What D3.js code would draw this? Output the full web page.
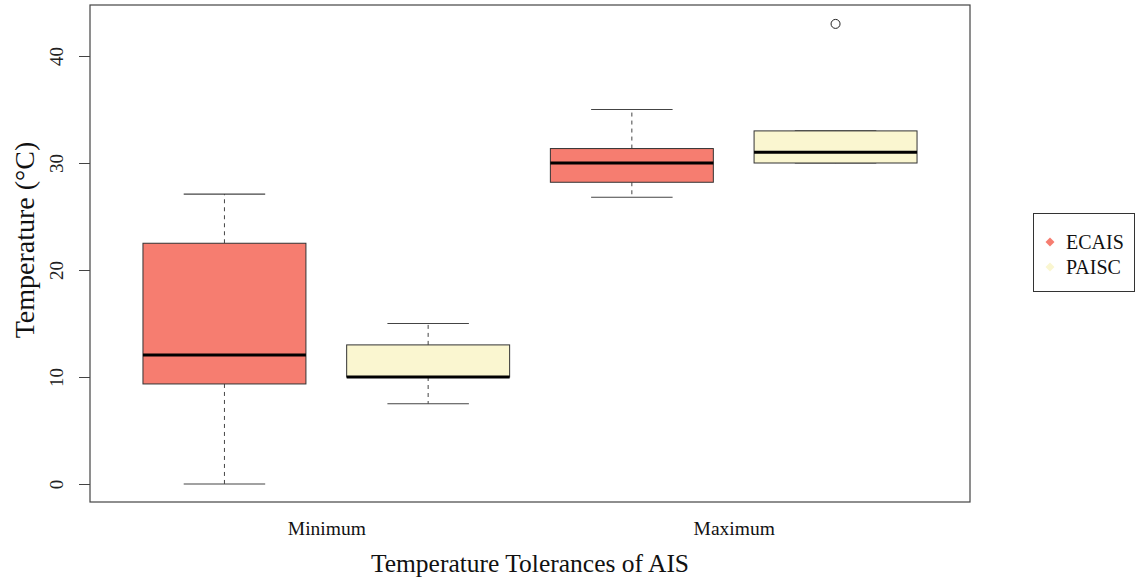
<!DOCTYPE html>
<html><head><meta charset="utf-8">
<script src="https://cdn.jsdelivr.net/npm/d3@7"></script>
<style>body{margin:0;background:#fff}svg{display:block}text{font-family:"Liberation Serif","DejaVu Serif",serif}</style>
</head><body>
<svg id="c" width="1135" height="582"></svg>
<script>
const groups = ["Minimum","Maximum"];
const seriesNames = ["ECAIS","PAISC"];
const seriesColors = ["#f67d70","#faf6d0"];
// [low whisker, q1, median, q3, high whisker] per box, ordered Min-ECAIS, Min-PAISC, Max-ECAIS, Max-PAISC
const boxStats = [
  [0, 9.35, 12.05, 22.5, 27.1],
  [7.5, 10, 10, 13, 15],
  [26.8, 28.2, 30, 31.35, 35],
  [30, 30, 31, 33, 33]
];
const outliers = [[], [], [], [43]];
const yTicks = [0,10,20,30,40];

const svg = d3.select("#c");
const L=90,R=970,T=5,B=502;
const x = d3.scaleLinear().domain([0.34,4.66]).range([L,R]);
const y = d3.scaleLinear().domain([0,40]).range([484,56]);
const bw = 0.8, cw = 0.4;

boxStats.forEach((s,i)=>{
  const p=i+1, col=seriesColors[i%2];
  const g=svg.append("g");
  g.append("line").attr("x1",x(p)).attr("x2",x(p)).attr("y1",y(s[3])).attr("y2",y(s[4]))
    .attr("stroke","#444").attr("stroke-dasharray","4,4");
  g.append("line").attr("x1",x(p)).attr("x2",x(p)).attr("y1",y(s[1])).attr("y2",y(s[0]))
    .attr("stroke","#444").attr("stroke-dasharray","4,4");
  [s[0],s[4]].forEach(v=>g.append("line").attr("x1",x(p-cw/2)).attr("x2",x(p+cw/2))
    .attr("y1",y(v)).attr("y2",y(v)).attr("stroke","#444").attr("stroke-width",1.2));
  g.append("rect").attr("x",x(p-bw/2)).attr("width",x(p+bw/2)-x(p-bw/2))
    .attr("y",y(s[3])).attr("height",Math.max(0,y(s[1])-y(s[3])))
    .attr("fill",col).attr("stroke","#333").attr("stroke-width",1);
  g.append("line").attr("x1",x(p-bw/2)).attr("x2",x(p+bw/2)).attr("y1",y(s[2])).attr("y2",y(s[2]))
    .attr("stroke","#000").attr("stroke-width",3);
  outliers[i].forEach(v=>g.append("circle").attr("cx",x(p)).attr("cy",y(v)).attr("r",4.5)
    .attr("fill","none").attr("stroke","#222").attr("stroke-width",1));
});

svg.append("rect").attr("x",L).attr("y",T).attr("width",R-L).attr("height",B-T)
  .attr("fill","none").attr("stroke","#444").attr("stroke-width",1.2);

const ya = svg.append("g").attr("transform",`translate(${L},0)`)
  .call(d3.axisLeft(y).tickValues(yTicks).tickSize(11).tickFormat(d3.format("d")));
ya.select(".domain").remove();
ya.selectAll(".tick line").attr("stroke","#444");
ya.selectAll(".tick text").attr("font-size",19).attr("fill","#222")
  .attr("transform","rotate(-90)").attr("x",0).attr("dy",0).attr("y",-27)
  .attr("text-anchor","middle");

const xa = svg.append("g").attr("transform",`translate(0,${B})`)
  .call(d3.axisBottom(x).tickValues([1.5,3.5]).tickSize(0).tickFormat((d,i)=>groups[i]));
xa.select(".domain").remove();
xa.selectAll(".tick text").attr("font-size",19.5).attr("fill","#111").attr("dy",0).attr("y",33);

svg.append("text").attr("x",x(2.5)).attr("y",572).attr("text-anchor","middle")
  .attr("font-size",25.5).attr("fill","#111").text("Temperature Tolerances of AIS");
svg.append("text").attr("transform","translate(34,240) rotate(-90)").attr("text-anchor","middle")
  .attr("font-size",28).attr("fill","#111").text("Temperature (°C)");

const lg = svg.append("g");
lg.append("rect").attr("x",1033.5).attr("y",213.5).attr("width",101).attr("height",78)
  .attr("fill","#fff").attr("stroke","#333").attr("stroke-width",1);
seriesNames.forEach((n,i)=>{
  const cy=242+i*25;
  lg.append("path").attr("d",d3.symbol(d3.symbolSquare,40)()).attr("transform",`translate(1050,${cy}) rotate(45)`)
    .attr("fill",seriesColors[i]);
  lg.append("text").attr("x",1066).attr("y",cy+7).attr("font-size",20).attr("fill","#111").text(n);
});
</script>
</body></html>
